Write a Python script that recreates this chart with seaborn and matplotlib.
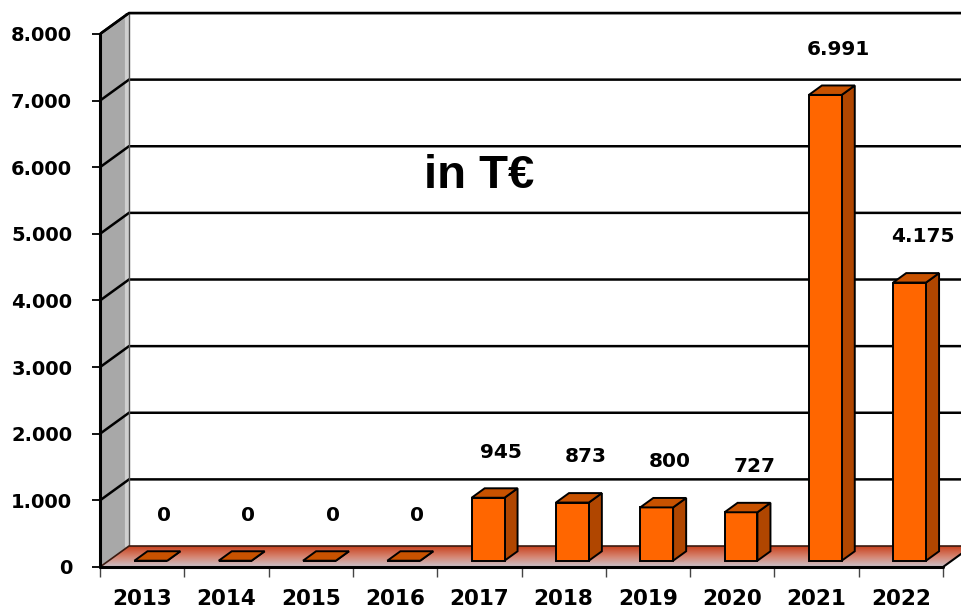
import matplotlib

matplotlib.use("Agg")

import matplotlib.pyplot as plt
import numpy as np
import seaborn as sns
from matplotlib.colors import LinearSegmentedColormap
from matplotlib.patches import Polygon

# data
years = ["2013", "2014", "2015", "2016", "2017", "2018", "2019", "2020", "2021", "2022"]
values = [0, 0, 0, 0, 945, 873, 800, 727, 6991, 4175]
y_ticks = [0, 1000, 2000, 3000, 4000, 5000, 6000, 7000, 8000]
unit_label = "in T€"

# pseudo-3d geometry (data units)
DDX = 0.344   # depth shift along x (categories)
DDY = 315     # depth shift along y (values)
FRONT = 0.30  # where the bar front face sits in the depth
BDEPTH = 0.45 # bar depth as fraction of full depth

FRONT_C = "#FF6600"
SIDE_C = "#B04600"
TOP_C = "#C85200"
NUM_FONT = ["DejaVu Sans"]

sns.set_theme(style="white")
plt.rcParams["font.family"] = ["Liberation Sans", "DejaVu Sans"]
plt.rcParams["font.weight"] = "bold"
plt.rcParams["text.color"] = "black"
plt.rcParams["xtick.color"] = "black"
plt.rcParams["ytick.color"] = "black"

fig = plt.figure(figsize=(9.62, 6.10), dpi=100)
ax = fig.add_axes([100 / 962, 43 / 610, 862 / 962, 554 / 610])

n = len(years)
x_lo, x_hi = -0.5, n - 0.5
ymax = y_ticks[-1]

# left wall
ax.add_patch(Polygon([(x_lo, 0), (x_lo, ymax), (x_lo + DDX, ymax + DDY), (x_lo + DDX, DDY)],
                     closed=True, facecolor="#A8A8A8", edgecolor="none", zorder=1))
ax.plot([x_lo + DDX * 0.93, x_lo + DDX * 0.93], [DDY, ymax + DDY], color="#CFCFCF", lw=3, zorder=1.2)
# back wall
ax.add_patch(Polygon([(x_lo + DDX, DDY), (x_lo + DDX, ymax + DDY), (x_hi + 2, ymax + DDY), (x_hi + 2, DDY)],
                     closed=True, facecolor="white", edgecolor="none", zorder=1))

# gridlines (left wall diagonal + back wall)
for v in y_ticks[1:]:
    ax.plot([x_lo, x_lo + DDX, x_hi + 2], [v, v + DDY, v + DDY], color="black", lw=1.8, zorder=2,
            solid_joinstyle="miter")
ax.plot([x_lo + DDX, x_lo + DDX], [DDY, ymax + DDY], color="#555555", lw=1.0, zorder=2)

# floor with gradient
floor = Polygon([(x_lo, 0), (x_hi, 0), (x_hi + DDX, DDY), (x_lo + DDX, DDY)],
                closed=True, facecolor="none", edgecolor="none")
ax.add_patch(floor)
cmap = LinearSegmentedColormap.from_list("floor", ["#C9C1C9", "#D68470", "#C8421E"])
grad = np.linspace(0, 1, 64).reshape(-1, 1)
im = ax.imshow(grad, extent=[x_lo, x_hi + DDX, 0, DDY], origin="lower", aspect="auto",
               cmap=cmap, zorder=2.5, interpolation="bilinear")
im.set_clip_path(floor)
ax.plot([x_lo, x_lo + DDX, x_hi + 2], [0, DDY, DDY], color="#3A1A10", lw=1.2, zorder=2.6)
ax.plot([x_hi, x_hi + DDX], [0, DDY], color="black", lw=1.5, zorder=2.6)
ax.plot([x_lo, x_hi], [0, 0], color="black", lw=2.2, zorder=2.6, clip_on=False)
ax.plot([x_lo, x_lo], [0, ymax], color="black", lw=2.2, zorder=2.6, clip_on=False)
ax.plot([x_lo, x_lo + DDX, x_hi + 2], [ymax, ymax + DDY, ymax + DDY], color="black", lw=1.8,
        zorder=2.6, clip_on=False)

# bars
sns.barplot(x=years, y=values, color=FRONT_C, saturation=1, width=0.39,
            edgecolor="black", linewidth=1.4, ax=ax, zorder=4)

for p in list(ax.patches):
    if not hasattr(p, "get_width") or p is floor:
        continue
    if p.get_facecolor()[:3] != matplotlib.colors.to_rgb(FRONT_C):
        continue
    x0 = p.get_x() + FRONT * DDX
    y0 = FRONT * DDY
    w, h = p.get_width(), p.get_height()
    p.set_x(x0)
    p.set_y(y0)
    bx, by = BDEPTH * DDX, BDEPTH * DDY
    ax.add_patch(Polygon([(x0 + w, y0), (x0 + w + bx, y0 + by), (x0 + w + bx, y0 + h + by), (x0 + w, y0 + h)],
                         closed=True, facecolor=SIDE_C, edgecolor="black", lw=1.4, zorder=3.9))
    ax.add_patch(Polygon([(x0, y0 + h), (x0 + w, y0 + h), (x0 + w + bx, y0 + h + by), (x0 + bx, y0 + h + by)],
                         closed=True, facecolor=TOP_C, edgecolor="black", lw=1.4, zorder=4.1))

# value labels
for i, v in enumerate(values):
    ax.text(i + 0.26, v + 780, f"{v:,}".replace(",", "."), ha="center", va="center",
            fontsize=14.5, fontweight="bold", family=NUM_FONT, color="black", zorder=6)

ax.text(4.0, 5870, unit_label, ha="center", va="center", fontsize=34, fontweight="bold",
        color="black", zorder=6)

# axes
ax.set_xlim(x_lo, 9.725)
ax.set_ylim(0, 8315)
for s in ax.spines.values():
    s.set_visible(False)
ax.set_xlabel("")
ax.set_ylabel("")

ax.set_yticks(y_ticks)
ax.set_yticklabels([f"{v:,}".replace(",", ".") for v in y_ticks], fontsize=14, fontweight="bold",
                   family=NUM_FONT)
ax.tick_params(axis="y", left=True, length=6, width=1.3, color="black", pad=14, direction="out")

ax.set_xticks(np.arange(n + 1) - 0.5)
ax.set_xticklabels([])
ax.set_xticks(np.arange(n), minor=True)
ax.set_xticklabels(years, minor=True, fontsize=15.5, fontweight="bold", family=NUM_FONT)
ax.tick_params(axis="x", which="major", bottom=True, length=7, width=1.0, color="#444444", direction="out")
ax.tick_params(axis="x", which="minor", bottom=True, length=0, pad=16)

fig.savefig("out.png", dpi=100)
